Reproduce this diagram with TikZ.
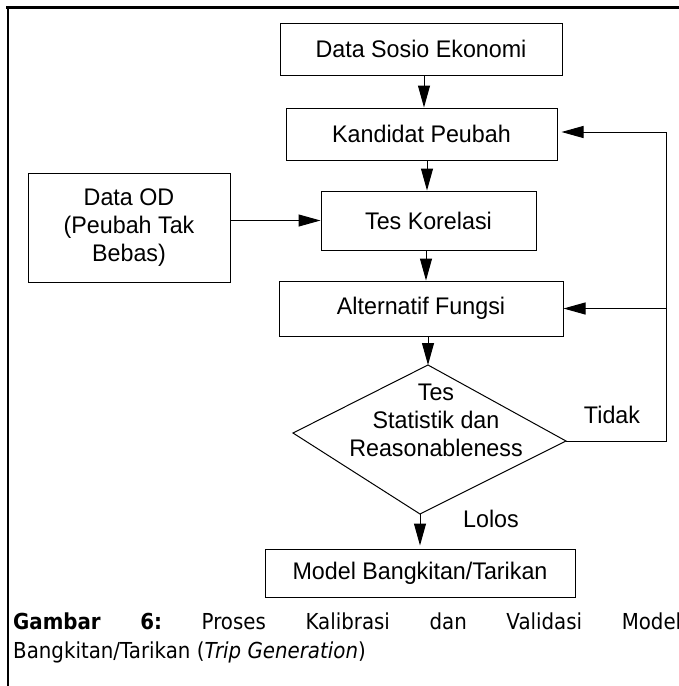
\documentclass[tikz,border=0pt]{standalone}
\usepackage{fontspec}
\setmainfont{Liberation Sans}[FakeStretch=0.97]
\newfontfamily\capfont{DejaVu Sans}[FakeStretch=0.9]
\usetikzlibrary{arrows.meta,calc}
\newcommand{\flowfont}{\fontsize{24}{28}\selectfont}
\newcommand{\captionfont}{\capfont\fontsize{22}{26}\selectfont}

\begin{document}
\begin{tikzpicture}[x=1pt,y=-1pt,
  box/.style={draw=black, line width=1pt, inner sep=0pt, align=center, font=\flowfont},
  lbl/.style={inner sep=0pt, align=center, font=\flowfont},
  link/.style={draw=black, line width=1pt},
  arr/.style={link, -{Triangle[length=22pt,width=12pt]}},
  captext/.style={anchor=base west, inner sep=0pt, font=\captionfont},
]
\useasboundingbox (0,0) rectangle (679,686);
\fill[white] (0,0) rectangle (679,686);

% frame lines (top and left)
\draw[line width=3pt] (6,7.5) -- (679,7.5);
\draw[line width=2pt] (7.5,6) -- (7.5,686);

% process boxes
\node[box, minimum width=282pt, minimum height=52pt] (dse) at (421,49) {Data Sosio Ekonomi};
\node[box, minimum width=271pt, minimum height=52pt] (kp) at (421.5,134) {Kandidat Peubah};
\node[box, minimum width=215pt, minimum height=59pt] (tk) at (428.5,220.5) {Tes Korelasi};
\node[box, minimum width=202pt, minimum height=109pt] (od) at (129,227.5) {Data OD\\(Peubah Tak\\Bebas)};
\node[box, minimum width=284pt, minimum height=55pt] (af) at (421,308.5) {Alternatif Fungsi};
\node[box, minimum width=310pt, minimum height=48pt] (mb) at (420,573) {Model Bangkitan/Tarikan};

% decision
\coordinate (dT) at (428,365);
\coordinate (dL) at (293,433);
\coordinate (dR) at (566,441);
\coordinate (dB) at (420,514);
\draw[link] (dT) -- (dR) -- (dB) -- (dL) -- cycle;
\node[lbl] (ts) at (436,420) {Tes\\Statistik dan\\Reasonableness};

% branch labels
\node[lbl] (lolos) at (491,519) {Lolos};
\node[lbl] (tidak) at (612,415) {Tidak};

% main flow
\draw[arr] ([xshift=3pt]dse.south) -- ([xshift=3pt]dse.south |- kp.north);
\draw[arr] ([xshift=5.5pt]kp.south) -- ([xshift=5.5pt]kp.south |- tk.north);
\draw[arr] (tk.west -| od.east) -- (tk.west);
\draw[arr] ([xshift=5pt]af.north |- tk.south) -- ([xshift=5pt]af.north);
\draw[arr] (dT |- af.south) -- (dT);
\draw[arr, shorten >=3pt] (dB) -- (dB |- mb.north);

% loop back on failure
\coordinate (fbB) at (666,441);
\coordinate (fbT) at (666,132);
\draw[link] (dR) -- (fbB) -- (fbT);
\draw[arr, shorten >=4pt] (fbT) -- (fbT -| kp.east);
\draw[arr] (fbB |- af.east) -- (af.east);

% caption
\node[captext] (cap1) at (13,629) {\hbox to 668pt{\textbf{Gambar}\hfill\textbf{6:}\hfill Proses\hfill Kalibrasi\hfill dan\hfill Validasi\hfill Model}};
\node[captext] (cap2) at (13,658) {Bangkitan/Tarikan (\textit{Trip Generation})};
\end{tikzpicture}
\end{document}
